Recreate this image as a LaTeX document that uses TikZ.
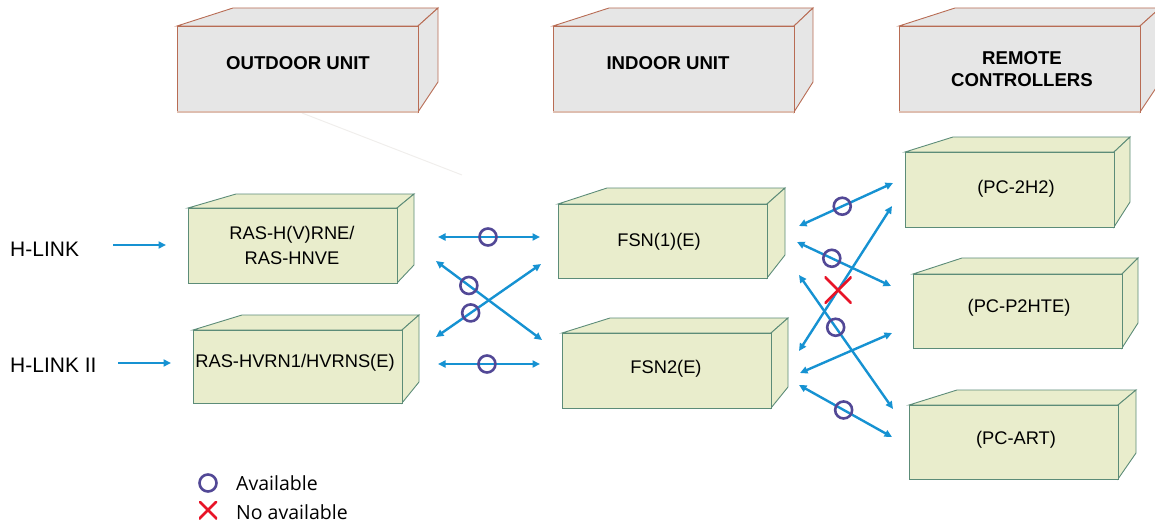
\documentclass[tikz,border=0pt]{standalone}
\usepackage{fontspec}
\setmainfont{Liberation Sans}
\newfontfamily\legendfont{Open Sans}
\usetikzlibrary{arrows.meta}

\definecolor{arrowblue}{RGB}{22,146,210}
\definecolor{ringc}{RGB}{82,72,150}
\definecolor{xred}{RGB}{232,20,40}
\definecolor{greenfill}{RGB}{233,237,204}
\definecolor{greenedge}{RGB}{92,140,120}
\definecolor{grayfill}{RGB}{230,230,230}
\definecolor{brownedge}{RGB}{184,108,84}
\definecolor{brownlight}{RGB}{222,190,176}
\definecolor{faint}{RGB}{240,238,236}

% #1 style, front x1 y1 x2 y2, back-left x, back-top y, back-right x, back-bottom y
\newcommand\cubebox[9]{%
  \filldraw[#1] (#2,#3) -- (#6,#7) -- (#8,#7) -- (#4,#3) -- cycle;
  \filldraw[#1] (#4,#3) -- (#8,#7) -- (#8,#9) -- (#4,#5) -- cycle;
  \filldraw[#1] (#2,#3) rectangle (#4,#5);
}

\tikzset{
  graybox/.style={fill=grayfill, draw=brownedge, line width=0.9pt, line join=miter},
  greenbox/.style={fill=greenfill, draw=greenedge, line width=0.9pt, line join=miter},
  headlbl/.style={font=\bfseries\fontsize{18.6}{22}\selectfont, align=center, inner sep=0pt},
  boxlbl/.style={font=\fontsize{18.3}{25}\selectfont, align=center, inner sep=0pt},
  sidelbl/.style={font=\fontsize{21}{24}\selectfont, anchor=west, inner sep=0pt},
  leglbl/.style={font=\legendfont\fontsize{19.5}{24}\selectfont, anchor=west, inner sep=0pt},
  tip/.tip={Triangle[length=7.5pt,width=7pt]},
  conn/.style={draw=arrowblue, line width=2.4pt, tip-tip},
  feed/.style={draw=arrowblue, line width=2.4pt, -tip},
  ring/.style={circle, draw=ringc, line width=2.6pt, minimum size=17pt, inner sep=0pt, fill=none},
  xmark/.style={minimum width=27pt, minimum height=27pt, inner sep=0pt,
    path picture={\draw[xred, line width=2.6pt]
      (path picture bounding box.north west) -- (path picture bounding box.south east)
      (path picture bounding box.south west) -- (path picture bounding box.north east);}},
}

\begin{document}
\begin{tikzpicture}[x=1pt,y=-1pt]
\useasboundingbox (0,0) rectangle (1155,524);
\clip (0,0) rectangle (1155,524);

% faint stray line
\coordinate (f1) at (302,113);
\coordinate (f2) at (462,175);
\draw[faint, line width=1pt] (f1) -- (f2);

% header boxes
\cubebox{graybox}{177}{26}{418}{112}{233}{8}{438}{82}
\draw[brownlight, line width=1.2pt] (177,112) -- (418,112);
\cubebox{graybox}{553}{26}{794}{112}{609}{8}{813}{82}
\draw[brownlight, line width=1.2pt] (553,112) -- (794,112);
\cubebox{graybox}{899}{26}{1140}{112}{955}{8}{1160}{82}
\draw[brownlight, line width=1.2pt] (899,112) -- (1140,112);

\node[headlbl] (hout) at (298,63) {OUTDOOR UNIT};
\node[headlbl] (hin) at (668,63) {INDOOR UNIT};
\node[headlbl] (hrc) at (1022,69) {REMOTE\\CONTROLLERS};

% outdoor units
\cubebox{greenbox}{188}{208}{397}{283}{236}{194}{414}{265}
\node[boxlbl] (ou1) at (292,245) {RAS-H(V)RNE/\\RAS-HNVE};
\cubebox{greenbox}{193}{330}{402}{403}{242}{315}{419}{382}
\node[boxlbl] (ou2) at (295,363) {RAS-HVRN1/HVRNS(E)};

% indoor units
\cubebox{greenbox}{558}{204}{767}{278}{607}{188}{785}{255}
\node[boxlbl] (iu1) at (659,242) {FSN(1)(E)};
\cubebox{greenbox}{562}{333}{771}{408}{610}{318}{788}{387}
\node[boxlbl] (iu2) at (666,369) {FSN2(E)};

% remote controllers
\cubebox{greenbox}{905}{152}{1114}{227}{953}{137}{1130}{202}
\node[boxlbl] (rc1) at (1016,189) {(PC-2H2)};
\cubebox{greenbox}{913}{274}{1122}{348}{962}{258}{1138}{323}
\node[boxlbl] (rc2) at (1019,308) {(PC-P2HTE)};
\cubebox{greenbox}{909}{405}{1118}{479}{957}{390}{1136}{453}
\node[boxlbl] (rc3) at (1016,440) {(PC-ART)};

% side labels
\node[sidelbl] (hl1) at (10,249) {H-LINK};
\node[sidelbl] (hl2) at (10,365) {H-LINK II};
\coordinate (h1s) at (113,245); \coordinate (h1e) at (166,245);
\coordinate (h2s) at (118,363); \coordinate (h2e) at (171,363);
\draw[feed] (h1s) -- (h1e);
\draw[feed] (h2s) -- (h2e);

% outdoor <-> indoor
\coordinate (a1s) at (438,237); \coordinate (a1e) at (540,237);
\coordinate (a2s) at (436,261); \coordinate (a2e) at (542,340);
\coordinate (a3s) at (436,337); \coordinate (a3e) at (541,264);
\coordinate (a4s) at (438,364); \coordinate (a4e) at (540,364);
\draw[conn] (a1s) -- (a1e);
\draw[conn] (a2s) -- (a2e);
\draw[conn] (a3s) -- (a3e);
\draw[conn] (a4s) -- (a4e);
\path (a1s) -- node[ring, pos=0.49] (r1) {} (a1e);
\path (a2s) -- node[ring, pos=0.31] (r2) {} (a2e);
\path (a3s) -- node[ring, pos=0.33] (r3) {} (a3e);
\path (a4s) -- node[ring, pos=0.48] (r4) {} (a4e);

% indoor <-> remote
\coordinate (b1s) at (799,226); \coordinate (b1e) at (893,183);
\coordinate (b2s) at (797,242); \coordinate (b2e) at (891,286);
\coordinate (b3s) at (799,351); \coordinate (b3e) at (892,206);
\coordinate (b4s) at (799,275); \coordinate (b4e) at (893,409);
\coordinate (b5s) at (800,373); \coordinate (b5e) at (892,333);
\coordinate (b6s) at (799,385); \coordinate (b6e) at (892,437);
\draw[conn] (b1s) -- (b1e);
\draw[conn] (b2s) -- (b2e);
\draw[conn] (b3s) -- (b3e);
\draw[conn] (b4s) -- (b4e);
\draw[conn] (b5s) -- (b5e);
\draw[conn] (b6s) -- (b6e);
\path (b1s) -- node[ring, pos=0.46] (r5) {} (b1e);
\path (b2s) -- node[ring, pos=0.37] (r6) {} (b2e);
\path (b3s) -- node[xmark, pos=0.42] (x1) {} (b3e);
\path (b4s) -- node[ring, pos=0.39] (r7) {} (b4e);
\path (b6s) -- node[ring, pos=0.48] (r8) {} (b6e);

% legend
\node[ring, minimum size=17pt] (lr) at (208,483) {};
\node[xmark, minimum width=18pt, minimum height=18pt] (lx) at (208,510) {};
\node[leglbl] (lt1) at (236,483) {Available};
\node[leglbl] (lt2) at (236,512) {No available};
\end{tikzpicture}
\end{document}
